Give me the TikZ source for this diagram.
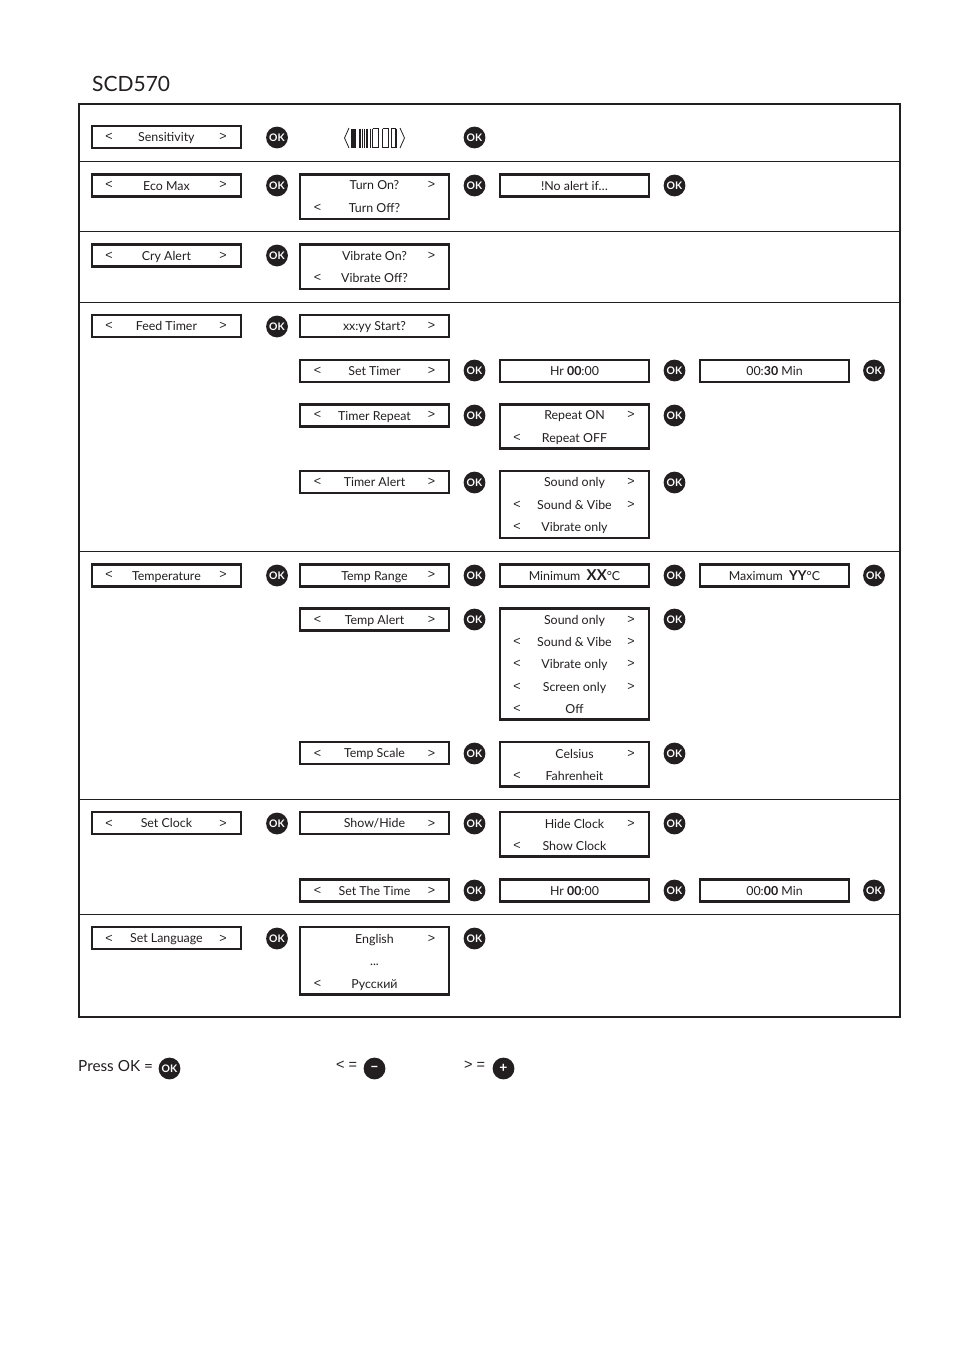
\documentclass[tikz,border=0pt]{standalone}
\usepackage{fontspec}
\setmainfont{Lato}
\newfontfamily\chevfont{Liberation Sans}
\usepackage{xcolor}
\usetikzlibrary{positioning}
\definecolor{SCDBlack}{RGB}{35, 31, 32}
\tikzset{
  lcdbox/.style={draw=SCDBlack, line width=2.3pt, minimum width=148.6pt, minimum height=22pt, inner sep=0pt, text=SCDBlack, text height=9.4pt, text depth=0pt, font=\fontsize{12.4}{14}\selectfont, anchor=north},
  lcdtext/.style={text=SCDBlack, inner sep=0pt, text height=9.4pt, text depth=0pt, font=\fontsize{12.4}{14}\selectfont},
  chev/.style={text=SCDBlack, inner sep=0pt, yshift=-0.4pt, font=\fontsize{12.5}{14}\selectfont\chevfont},
  okbtn/.style={circle, fill=SCDBlack, minimum size=21.8pt, inner sep=0pt, yshift=-0.5pt, text=white, font=\fontsize{10.4}{11}\selectfont\bfseries},
  sepline/.style={SCDBlack, line width=1pt}
}
\begin{document}
\begin{tikzpicture}[x=1pt,y=-1pt]
  \path[use as bounding box, fill=white] (0,0) rectangle (954,1354);
  \node[anchor=base west, inner sep=0pt, text=SCDBlack, font=\fontsize{21}{24}\selectfont] (title) at (92,92) {SCD570};

  % frame and rows
  \draw[SCDBlack, line width=2pt] (79,104) rectangle (900,1017);
  \foreach \y in {161.5,231.5,302.5,551.5,799.5,914.5}
    \draw[sepline] (79,\y) -- (900,\y);

  % Sensitivity
  \node[lcdbox] (sens) at (166.4,125) {Sensitivity};
  \draw[SCDBlack, line width=0.8pt] (349,128) -- (344.5,138) -- (349,148);
  \draw[SCDBlack, line width=0.8pt] (400,128) -- (404.5,138) -- (400,148);
  \foreach \x/\w in {353.5/5,359.5/2,362.5/1.2,364.6/1.2,367/1.2,370/0.8,372.5/1.5,378.5/1.2,382.5/0.8,388.5/1.2,391/1,396/1.5}
    \draw[SCDBlack, line width=\w pt] (\x,128.5) -- (\x,147.5);
  \draw[SCDBlack, line width=0.8pt] (372.5,128.5) -- (378.5,128.5) (372.5,147.5) -- (378.5,147.5) (382.5,128.5) -- (388.5,128.5) (382.5,147.5) -- (388.5,147.5) (391,128.5) -- (396,128.5) (391,147.5) -- (396,147.5);

  % Eco Max
  \node[lcdbox] (eco) at (166.4,173.3) {Eco Max};
  \node[lcdbox, minimum height=44.2pt] (turn) at (374.5,173.3) {};
  \node[lcdtext] (turnon) at (374.5,185) {Turn On?};
  \node[lcdtext] (turnoff) at (374.5,207.5) {Turn Off?};
  \node[lcdbox] (noalert) at (574.5,173.3) {!No alert if…};

  % Cry Alert
  \node[lcdbox] (cry) at (166.4,243.3) {Cry Alert};
  \node[lcdbox, minimum height=44.2pt] (vib) at (374.5,243.3) {};
  \node[lcdtext] (vibon) at (374.5,255.5) {Vibrate On?};
  \node[lcdtext] (viboff) at (374.5,277.5) {Vibrate Off?};

  % Feed Timer
  \node[lcdbox] (feed) at (166.4,314) {Feed Timer};
  \node[lcdbox] (start) at (374.5,314) {xx:yy Start?};
  \node[lcdbox] (settimer) at (374.5,358.7) {Set Timer};
  \node[lcdbox] (hr) at (574.5,358.7) {Hr \textbf{00}:00};
  \node[lcdbox] (min) at (774.5,358.7) {00:\textbf{30} Min};
  \node[lcdbox] (repeat) at (374.5,403.2) {Timer Repeat};
  \node[lcdbox, minimum height=44.2pt] (repbox) at (574.5,403.2) {};
  \node[lcdtext] (repon) at (574.5,414.5) {Repeat ON};
  \node[lcdtext] (repoff) at (574.5,437.5) {Repeat OFF};
  \node[lcdbox] (talert) at (374.5,470) {Timer Alert};
  \node[lcdbox, minimum height=66.5pt] (tabox) at (574.5,470) {};
  \node[lcdtext] (tasound) at (574.5,481.5) {Sound only};
  \node[lcdtext] (tavibe) at (574.5,504.5) {Sound \& Vibe};
  \node[lcdtext] (taonly) at (574.5,526.5) {Vibrate only};

  % Temperature
  \node[lcdbox] (temp) at (166.4,563.3) {Temperature};
  \node[lcdbox] (range) at (374.5,563.3) {Temp Range};
  \node[lcdbox] (tmin) at (574.5,563.3) {Minimum\ \ {\fontsize{15}{14}\selectfont\bfseries XX}°C};
  \node[lcdbox] (tmax) at (774.5,563.3) {Maximum\ \ {\fontsize{13.5}{14}\selectfont\bfseries YY}°C};
  \node[lcdbox] (alert) at (374.5,607.3) {Temp Alert};
  \node[lcdbox, minimum height=111pt] (albox) at (574.5,607.3) {};
  \node[lcdtext] (alsound) at (574.5,619.5) {Sound only};
  \node[lcdtext] (alvibe) at (574.5,641.5) {Sound \& Vibe};
  \node[lcdtext] (alonly) at (574.5,663.5) {Vibrate only};
  \node[lcdtext] (alscreen) at (574.5,686.5) {Screen only};
  \node[lcdtext] (aloff) at (574.5,708.5) {Off};
  \node[lcdbox] (scale) at (374.5,741) {Temp Scale};
  \node[lcdbox, minimum height=44.2pt] (scbox) at (574.5,741) {};
  \node[lcdtext] (celsius) at (574.5,753.5) {Celsius};
  \node[lcdtext] (fahr) at (574.5,775.5) {Fahrenheit};

  % Set Clock
  \node[lcdbox] (clock) at (166.4,811) {Set Clock};
  \node[lcdbox] (show) at (374.5,811) {Show/Hide};
  \node[lcdbox, minimum height=44.2pt] (clbox) at (574.5,811) {};
  \node[lcdtext] (hide) at (574.5,823.5) {Hide Clock};
  \node[lcdtext] (showcl) at (574.5,845.5) {Show Clock};
  \node[lcdbox] (thetime) at (374.5,878.3) {Set The Time};
  \node[lcdbox] (hrset) at (574.5,878.3) {Hr \textbf{00}:00};
  \node[lcdbox] (minset) at (774.5,878.3) {00:\textbf{00} Min};

  % Set Language
  \node[lcdbox] (lang) at (166.4,926) {Set Language};
  \node[lcdbox, minimum height=67.4pt] (lgbox) at (374.5,926) {};
  \node[lcdtext] (english) at (374.5,938.5) {English};
  \node[lcdtext] (dots) at (374.5,961) {...};
  \node[lcdtext] (russian) at (374.5,983.5) {Русский};

  % left and right marks
  \foreach \x/\y [count=\i] in {109/136,109/184,109/255,109/325,109/574,109/823,109/938,
    317.5/207,317.5/277,317.5/370,317.5/414,317.5/481,317.5/619,317.5/753,317.5/890,317.5/983,
    517/437,517/504,517/526,517/641,517/663,517/686,517/708,517/775,517/845}
    \node[chev] (less\i) at (\x,\y) {<};
  \foreach \x/\y [count=\i] in {223/136,223/184,223/255,223/325,223/574,223/823,223/938,
    431.5/184,431.5/255,431.5/325,431.5/370,431.5/414,431.5/481,431.5/574,431.5/619,431.5/753,431.5/823,431.5/890,431.5/938,
    631/414,631/481,631/504,631/619,631/641,631/663,631/686,631/753,631/823}
    \node[chev] (more\i) at (\x,\y) {>};

  % OK buttons
  \foreach \x/\y [count=\i] in {277/137,277/185,277/255,277/326,277/575,277/823,277/938,
    474.5/137,474.5/185,474.5/370,474.5/415,474.5/482,474.5/575,474.5/619,474.5/753,474.5/823,474.5/890,474.5/938,
    674.5/185,674.5/370,674.5/415,674.5/482,674.5/575,674.5/619,674.5/753,674.5/823,674.5/890,
    874/370,874/575,874/890}
    \node[okbtn] (ok\i) at (\x,\y) {OK};

  % legend
  \node[anchor=west, lcdtext, text height=11pt, font=\fontsize{15.3}{17}\selectfont] (press) at (78,1066) {Press OK =};
  \node[okbtn] (okkey) at (169.5,1068) {OK};
  \node[anchor=west, chev, font=\fontsize{14.5}{16}\selectfont\chevfont] (minustext) at (336,1065) {< =};
  \node[okbtn, font=\fontsize{15}{15}\selectfont\bfseries] (minuskey) at (374.5,1068) {–};
  \node[anchor=west, chev, font=\fontsize{14.5}{16}\selectfont\chevfont] (plustext) at (464,1065) {> =};
  \node[okbtn, font=\fontsize{14}{14}\selectfont\bfseries] (pluskey) at (503.5,1068) {+};
\end{tikzpicture}
\end{document}
